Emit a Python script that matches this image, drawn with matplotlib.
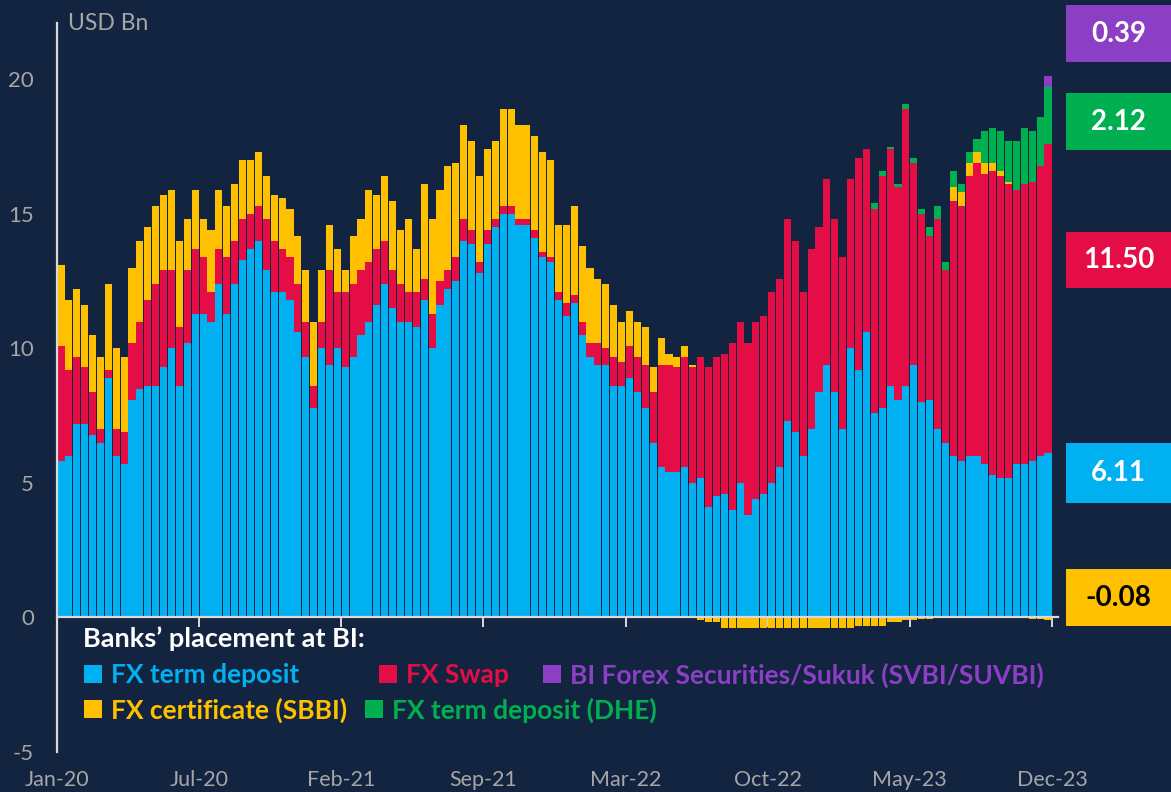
import numpy as np
import matplotlib
matplotlib.use("Agg")
import matplotlib.pyplot as plt
from matplotlib.patches import Rectangle
import matplotlib.transforms as mtransforms

plt.rcParams['font.family'] = ['Lato', 'DejaVu Sans']

# ---------------- data (USD Bn), Jan-20 .. Dec-23 -----------------
fx_term_deposit = [
    5.8, 6.0, 7.2, 7.2, 6.8, 6.5, 8.9, 6.0, 5.7, 8.1,
    8.5, 8.6, 8.6, 9.3, 10.0, 8.6, 10.2, 11.3, 11.3, 11.0,
    12.4, 11.3, 12.4, 13.3, 13.7, 14.0, 12.9, 12.1, 12.1, 11.8,
    10.6, 9.7, 7.8, 10.0, 9.4, 10.0, 9.3, 9.7, 10.5, 11.0,
    11.6, 12.4, 11.5, 11.0, 11.0, 10.8, 11.8, 10.0, 11.6, 12.2,
    12.5, 14.0, 13.9, 12.8, 13.9, 14.5, 15.0, 15.0, 14.6, 14.6,
    14.1, 13.4, 13.2, 11.8, 11.2, 11.7, 10.5, 9.7, 9.4, 9.4,
    8.6, 8.6, 8.9, 8.4, 7.8, 6.5, 5.6, 5.4, 5.4, 5.6,
    5.0, 5.2, 4.1, 4.5, 4.6, 4.0, 5.0, 3.8, 4.4, 4.6,
    5.0, 5.6, 7.3, 6.9, 6.0, 7.0, 8.4, 9.4, 8.4, 7.0,
    10.0, 9.2, 10.6, 7.6, 7.8, 8.6, 8.1, 8.6, 9.4, 8.0,
    8.1, 7.0, 6.5, 6.0, 5.8, 6.0, 6.0, 5.7, 5.3, 5.2,
    5.2, 5.7, 5.7, 5.8, 6.0, 6.11]
fx_swap = [
    4.3, 3.2, 2.5, 2.1, 1.6, 0.5, 0.3, 1.0, 1.2, 2.1,
    2.5, 3.2, 3.8, 3.6, 2.9, 2.2, 2.7, 2.4, 2.1, 1.1,
    1.3, 2.1, 1.6, 1.5, 1.3, 1.3, 1.9, 1.9, 1.6, 1.6,
    1.8, 1.3, 0.8, 1.0, 3.5, 2.1, 2.8, 2.7, 2.4, 2.2,
    2.1, 1.6, 1.4, 1.4, 1.1, 1.3, 0.8, 1.3, 0.9, 0.7,
    0.9, 0.8, 0.5, 0.4, 0.5, 0.3, 0.3, 0.3, 0.2, 0.2,
    0.3, 0.2, 0.2, 0.3, 0.5, 0.3, 0.5, 0.5, 0.8, 0.6,
    1.1, 0.9, 1.2, 1.3, 1.6, 1.9, 3.8, 4.0, 3.9, 4.1,
    4.3, 4.5, 5.2, 5.2, 5.2, 6.2, 6.0, 6.4, 6.6, 6.6,
    7.1, 7.0, 7.5, 7.1, 6.1, 6.7, 6.1, 6.9, 6.4, 6.4,
    6.3, 7.9, 6.8, 7.6, 8.6, 8.8, 7.9, 10.3, 7.5, 7.0,
    6.1, 7.8, 6.4, 9.5, 9.5, 10.4, 10.9, 10.8, 11.3, 11.2,
    10.9, 10.2, 10.4, 10.4, 10.8, 11.50]
fx_certificate_sbbi = [
    3.0, 2.6, 2.5, 2.3, 2.1, 2.7, 3.2, 3.0, 2.8, 2.8,
    3.0, 2.7, 2.9, 2.8, 3.0, 3.2, 1.9, 2.2, 1.4, 2.3,
    2.2, 1.9, 2.1, 2.2, 2.0, 2.0, 1.6, 1.7, 1.9, 1.8,
    1.8, 1.9, 2.4, 1.9, 1.7, 1.6, 0.8, 1.8, 1.9, 2.7,
    2.0, 2.4, 2.6, 2.0, 2.7, 1.6, 3.5, 3.5, 3.4, 3.9,
    3.5, 3.5, 3.3, 3.2, 3.0, 2.9, 3.6, 3.6, 3.5, 3.5,
    3.5, 3.7, 3.6, 2.5, 2.9, 3.3, 2.8, 2.8, 2.4, 2.4,
    1.9, 1.5, 1.3, 1.3, 1.4, 0.9, 1.0, 0.4, 0.4, 0.4,
    0.1, -0.1, -0.15, -0.15, -0.4, -0.4, -0.4, -0.4, -0.4, -0.4,
    -0.4, -0.4, -0.4, -0.4, -0.4, -0.4, -0.4, -0.4, -0.4, -0.4,
    -0.4, -0.33, -0.33, -0.33, -0.33, -0.15, -0.15, -0.1, -0.1, -0.05,
    -0.05, 0.0, 0.0, 0.5, 0.5, 0.5, 0.4, 0.4, 0.3, 0.2,
    0.1, -0.03, -0.03, -0.05, -0.05, -0.08]
fx_term_deposit_dhe = [0.0] * 103 + [
    0.2, 0.2, 0.1, 0.1, 0.2, 0.2, 0.2,
    0.3, 0.5, 0.3, 0.6, 0.3, 0.4, 0.5, 1.2, 1.3, 1.5,
    1.5, 1.8, 2.1, 1.9, 1.8, 2.12]
svbi_suvbi = [0.0] * 125 + [0.39]

tick_labels = ["Jan-20", "Jul-20", "Feb-21", "Sep-21", "Mar-22", "Oct-22", "May-23", "Dec-23"]

names = ["FX term deposit", "FX Swap", "FX certificate (SBBI)",
         "FX term deposit (DHE)", "BI Forex Securities/Sukuk (SVBI/SUVBI)"]
series = [fx_term_deposit, fx_swap, fx_certificate_sbbi, fx_term_deposit_dhe, svbi_suvbi]

# ---------------- style -----------------
BG = "#12243f"
C_BLUE = "#00b0f0"
C_RED = "#e50d45"
C_YEL = "#ffc000"
C_GRN = "#00b050"
C_PUR = "#8b3fc5"
colors = [C_BLUE, C_RED, C_YEL, C_GRN, C_PUR]
GREY = "#a6a6a6"
AXC = "#d9d9d9"

W, H = 1171, 792
fig = plt.figure(figsize=(W / 100, H / 100), dpi=100, facecolor=BG)

def px_rect(x0, y0, x1, y1):
    return [x0 / W, 1 - y1 / H, (x1 - x0) / W, (y1 - y0) / H]

ax = fig.add_axes(px_rect(57, 23, 1058, 752))
ax.set_facecolor(BG)

n = len(fx_term_deposit)
x = np.arange(n) + 0.5
pos_bottom = np.zeros(n)
neg_bottom = np.zeros(n)
for vals, col in zip(series, colors):
    v = np.asarray(vals, dtype=float)
    vp = np.where(v > 0, v, 0.0)
    vn = np.where(v < 0, v, 0.0)
    ax.bar(x, vp, bottom=pos_bottom, width=0.9, color=col, linewidth=0, zorder=2)
    if np.any(vn < 0):
        ax.bar(x, vn, bottom=neg_bottom, width=0.9, color=col, linewidth=0, zorder=2)
    pos_bottom += vp
    neg_bottom += vn

ax.set_xlim(0, 126.76)
ax.set_ylim(-5, 22.1)

for s in ["top", "right"]:
    ax.spines[s].set_visible(False)
ax.spines["left"].set_color(AXC)
ax.spines["left"].set_linewidth(1.6)
ax.spines["bottom"].set_position(("data", 0))
ax.spines["bottom"].set_color(AXC)
ax.spines["bottom"].set_linewidth(1.6)
ax.spines["bottom"].set_zorder(5)

ax.set_yticks([-5, 0, 5, 10, 15, 20])
ax.set_yticklabels(["-5", "0", "5", "10", "15", "20"])
ax.tick_params(axis="y", length=0, pad=16.5, labelcolor=GREY, labelsize=16)

tick_pos = [18 * k for k in range(len(tick_labels))]
ax.set_xticks(tick_pos)
ax.set_xticklabels([])
ax.tick_params(axis="x", direction="out", length=7, width=1.4, color=AXC)
trans = mtransforms.blended_transform_factory(ax.transData, fig.transFigure)
for tp, lab in zip(tick_pos, tick_labels):
    ax.text(tp, 1 - 780 / H, lab, transform=trans, ha="center", va="center",
            color=GREY, fontsize=15.5)

fig.text(68 / W, 1 - 24 / H, "USD Bn", color=GREY, fontsize=16.5, ha="left", va="center")

# ---------------- legend -----------------
fig.text(83 / W, 1 - 639 / H, "Banks\u2019 placement at BI:", color="white",
         fontsize=19.5, fontweight="bold", ha="left", va="center")
legend_items = [
    (names[0], C_BLUE, 84, 674),
    (names[1], C_RED, 379, 674),
    (names[4], C_PUR, 543, 674),
    (names[2], C_YEL, 84, 709),
    (names[3], C_GRN, 365, 709),
]
for label, col, lx, ly in legend_items:
    fig.add_artist(Rectangle((lx / W, 1 - (ly + 9) / H), 18 / W, 18 / H,
                             transform=fig.transFigure, facecolor=col, edgecolor="none"))
    fig.text((lx + 27) / W, 1 - (ly + 1) / H, label, color=col, fontsize=19,
             fontweight="bold", ha="left", va="center")

# ---------------- latest-value boxes -----------------
boxes = [
    (svbi_suvbi[-1], C_PUR, 5, 62, "white"),
    (fx_term_deposit_dhe[-1], C_GRN, 93, 150, "white"),
    (fx_swap[-1], C_RED, 232, 288, "white"),
    (fx_term_deposit[-1], C_BLUE, 443, 503, "white"),
    (fx_certificate_sbbi[-1], C_YEL, 569, 626, "black"),
]
for val, col, y0, y1, tc in boxes:
    fig.add_artist(Rectangle((1066 / W, 1 - y1 / H), (W - 1066) / W, (y1 - y0) / H,
                             transform=fig.transFigure, facecolor=col, edgecolor="none"))
    fig.text((1066 + W) / 2 / W, 1 - (y0 + y1) / 2 / H, f"{val:.2f}", color=tc,
             fontsize=20, fontweight="bold", ha="center", va="center")

fig.savefig("out.png", dpi=100, facecolor=BG)
